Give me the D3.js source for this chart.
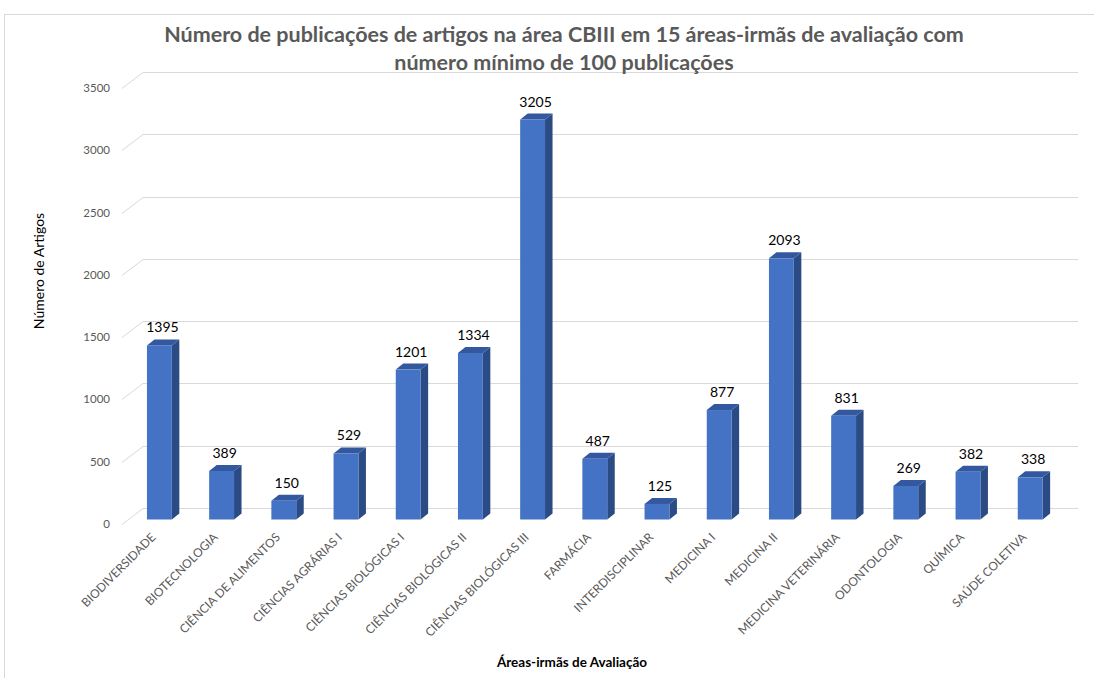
<!DOCTYPE html>
<html>
<head>
<meta charset="utf-8">
<script src="https://cdn.jsdelivr.net/npm/d3@7"></script>
<style>
  body { margin: 0; background: #fff; }
  text { font-family: Lato, "Open Sans", sans-serif; }
</style>
</head>
<body>
<svg id="chart" width="1094" height="678"></svg>
<script>
const categories = ["BIODIVERSIDADE", "BIOTECNOLOGIA", "CIÊNCIA DE ALIMENTOS", "CIÊNCIAS AGRÁRIAS I",
  "CIÊNCIAS BIOLÓGICAS I", "CIÊNCIAS BIOLÓGICAS II", "CIÊNCIAS BIOLÓGICAS III", "FARMÁCIA",
  "INTERDISCIPLINAR", "MEDICINA I", "MEDICINA II", "MEDICINA VETERINÁRIA", "ODONTOLOGIA",
  "QUÍMICA", "SAÚDE COLETIVA"];
const values = [1395, 389, 150, 529, 1201, 1334, 3205, 487, 125, 877, 2093, 831, 269, 382, 338];
const yTicks = [0, 500, 1000, 1500, 2000, 2500, 3000, 3500];
const titleLines = ["Número de publicações de artigos na área CBIII em 15 áreas-irmãs de avaliação com",
  "número mínimo de 100 publicações"];

const svg = d3.select("#chart");

// outer chart border
svg.append("rect")
  .attr("x", 4.5).attr("y", 14.5)
  .attr("width", 1100).attr("height", 700)
  .attr("fill", "none").attr("stroke", "#d9d9d9");

// 3d geometry: back wall and front edge
const depth = [21, 16];
const y_back = d3.scaleLinear().domain([0, 3500]).range([508, 72]);
const y_bar = d3.scaleLinear().domain([0, 3500]).range([519.5, 82.7]);
const x = d3.scaleBand().domain(categories)
  .range([128.3, 1061.3]).paddingInner(0.6).paddingOuter(0.3);

// gridlines
const grid = svg.append("g").attr("class", "grid");
yTicks.forEach(t => {
  const yb = Math.round(y_back(t)) + 0.5;
  grid.append("line")
    .attr("x1", 143 - depth[0]).attr("y1", yb + depth[1])
    .attr("x2", 143).attr("y2", yb)
    .attr("stroke", "#d9d9d9");
  grid.append("line")
    .attr("x1", 143).attr("y1", yb)
    .attr("x2", 1078).attr("y2", yb)
    .attr("stroke", "#d9d9d9");
});

// y tick labels
svg.append("g").selectAll("text")
  .data(yTicks).enter().append("text")
  .attr("x", 110)
  .attr("y", d => y_back(d) + depth[1] + 4)
  .attr("text-anchor", "end")
  .attr("font-size", 11.5)
  .attr("fill", "#595959")
  .text(d => d);

// bars
const bw = x.bandwidth();
const dx = 7.5, dy = 6;
const bars = svg.append("g").selectAll("g")
  .data(values).enter().append("g");

bars.append("path")  // side face
  .attr("fill", "#2b4b84")
  .attr("d", (d, i) => {
    const x0 = x(categories[i]) + bw, yt = y_bar(d), yb = y_bar(0);
    return `M${x0},${yt}L${x0 + dx},${yt - dy}L${x0 + dx},${yb - dy}L${x0},${yb}Z`;
  });
bars.append("path")  // top face
  .attr("fill", "#3358a0")
  .attr("d", (d, i) => {
    const x0 = x(categories[i]), yt = y_bar(d);
    return `M${x0},${yt}L${x0 + dx},${yt - dy}L${x0 + bw + dx},${yt - dy}L${x0 + bw},${yt}Z`;
  });
bars.append("rect")  // front face
  .attr("x", (d, i) => x(categories[i]))
  .attr("y", d => y_bar(d))
  .attr("width", bw)
  .attr("height", d => y_bar(0) - y_bar(d))
  .attr("fill", "#4472c4");

// value labels
bars.append("text")
  .attr("x", (d, i) => x(categories[i]) + bw / 2 + 3)
  .attr("y", d => y_bar(d) - 13)
  .attr("text-anchor", "middle")
  .attr("font-size", 14)
  .attr("fill", "#000")
  .text(d => d);

// category labels
svg.append("g").selectAll("text")
  .data(categories).enter().append("text")
  .attr("transform", d => `translate(${x(d) + bw / 2 - 3},${538}) rotate(-45)`)
  .attr("text-anchor", "end")
  .attr("font-size", 12)
  .attr("fill", "#595959")
  .text(d => d);

// title
svg.append("g").selectAll("text")
  .data(titleLines).enter().append("text")
  .attr("x", 564)
  .attr("y", (d, i) => 42 + i * 28)
  .attr("text-anchor", "middle")
  .attr("font-size", 21.5)
  .attr("font-weight", "bold")
  .attr("fill", "#595959")
  .text(d => d);

// axis titles
svg.append("text")
  .attr("transform", "translate(44,271) rotate(-90)")
  .attr("text-anchor", "middle")
  .attr("font-size", 14)
  .attr("fill", "#000")
  .text("Número de Artigos");

svg.append("text")
  .attr("x", 572).attr("y", 667)
  .attr("text-anchor", "middle")
  .attr("font-size", 13.5)
  .attr("font-weight", "bold")
  .attr("fill", "#000")
  .text("Áreas-irmãs de Avaliação");
</script>
</body>
</html>
